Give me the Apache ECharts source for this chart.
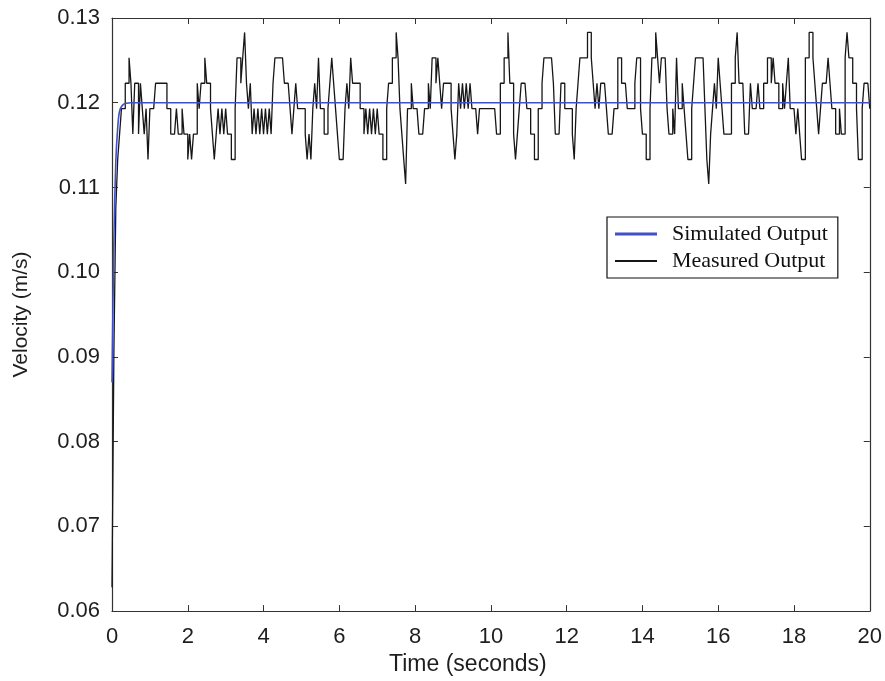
<!DOCTYPE html>
<html>
<head>
<meta charset="utf-8">
<script src="https://cdn.jsdelivr.net/npm/echarts@6/dist/echarts.min.js"></script>
<style>
  html, body { margin: 0; padding: 0; background: #ffffff; }
  #chart { width: 885px; height: 681px; }
</style>
</head>
<body>
<div id="chart"></div>
<script>
// Quantised velocity levels of the encoder (m/s)
const LEVELS = [0.1104, 0.1133, 0.1163, 0.1193, 0.1223, 0.1253, 0.1283];

// Sample period of the measured signal (s)
const SAMPLE_DT = 0.05;

// Measured start-up transient, t = 0 .. 0.25 s
const measuredStart = [0.0628, 0.0905, 0.1075, 0.1133, 0.1163, 0.1193];

// Measured level indices (into LEVELS), t = 0.30 s onward, one row per second
const measuredLevels = [
  3,4,4,5,4,2,4,4,2,4,3,2,3,1,
  3,3,3,4,4,4,4,4,4,3,3,2,2,2,3,2,2,3,2,2,
  1,2,1,2,2,4,3,4,4,5,4,4,3,2,1,2,3,2,3,2,
  3,2,2,1,1,3,5,5,4,5,6,4,3,4,2,3,2,3,2,3,
  2,3,2,3,2,4,5,5,5,5,5,4,4,4,3,2,3,4,3,3,
  3,3,2,1,2,1,3,4,3,5,3,3,2,2,3,4,5,4,3,2,
  1,1,1,3,4,3,5,4,4,4,4,3,3,2,3,2,3,2,3,2,
  3,2,2,1,1,3,4,4,5,5,6,5,3,2,1,0,3,3,4,3,
  3,3,2,2,2,3,3,4,3,5,5,4,5,4,3,4,4,4,4,3,
  2,1,2,4,3,4,3,4,3,4,3,3,3,2,3,3,3,3,3,3,
  3,3,3,2,2,4,4,5,5,6,4,4,2,1,2,3,4,4,4,3,
  3,2,2,1,1,3,3,4,5,5,5,5,5,4,2,2,2,4,4,3,
  3,3,3,2,1,3,4,5,5,5,5,6,6,5,4,3,4,3,4,4,
  4,3,2,2,2,3,3,5,5,4,4,4,3,3,3,3,4,5,5,3,
  2,2,1,1,3,5,5,6,5,4,5,5,5,3,2,2,3,2,5,3,
  3,4,3,2,1,1,3,4,5,5,5,5,5,3,1,0,2,3,4,3,
  5,4,3,2,2,2,2,4,4,5,6,4,4,4,2,2,2,4,3,3,
  3,4,3,3,4,4,5,5,4,5,4,4,3,3,4,3,4,5,3,3,
  3,2,3,2,1,1,5,5,6,6,5,4,3,2,3,4,4,4,5,4,
  3,3,2,2,3,2,2,5,6,5,5,4,4,3,1,1,3,4,4,4,
  3
];

// Simulated model response
const simTime  = [0, 0.05, 0.10, 0.15, 0.20, 0.30, 0.50, 20];
const simValue = [0.0870, 0.1040, 0.1130, 0.1170, 0.1190, 0.1198, 0.1200, 0.1200];

// Axis ticks
const xTicks = { min: 0, max: 20, interval: 2 };
const yTicks = { min: 0.06, max: 0.13, interval: 0.01 };

const measuredValues = measuredStart.concat(measuredLevels.map(i => LEVELS[i]));
const measuredData = measuredValues.map((v, n) => [+(n * SAMPLE_DT).toFixed(2), v]);
const simData = simTime.map((t, i) => [t, simValue[i]]);

const AXIS_COLOR = '#333333';
const TEXT_COLOR = '#1e1e1e';
const SANS = "'Liberation Sans', Arial, sans-serif";
const SIM_COLOR = '#4150c4';
const MEAS_COLOR = '#161616';

const tickStyle = { show: true, inside: true, length: 6, lineStyle: { color: AXIS_COLOR, width: 1 } };
const lineStyle = { show: true, onZero: false, lineStyle: { color: AXIS_COLOR, width: 1.2 } };

const chart = echarts.init(document.getElementById('chart'), null, { renderer: 'canvas' });

chart.setOption({
  backgroundColor: '#ffffff',
  animation: false,
  grid: { left: 112, right: 12, top: 18, bottom: 61, containLabel: false },
  legend: {
    orient: 'vertical',
    left: 607,
    top: 217,
    padding: [6, 10, 6, 8],
    itemGap: 5,
    itemWidth: 42,
    itemHeight: 14,
    borderColor: '#111111',
    borderWidth: 1.2,
    backgroundColor: '#ffffff',
    textStyle: {
      fontFamily: "'Liberation Serif', 'Times New Roman', serif",
      fontSize: 22,
      lineHeight: 22,
      color: '#111111',
      padding: [0, 0, 0, 10]
    },
    data: [
      { name: 'Simulated Output', icon: 'path://M0,0h42v3h-42z', itemStyle: { color: SIM_COLOR } },
      { name: 'Measured Output', icon: 'path://M0,0h42v2h-42z', itemStyle: { color: MEAS_COLOR } }
    ]
  },
  xAxis: [
    {
      type: 'value', position: 'bottom',
      min: xTicks.min, max: xTicks.max, interval: xTicks.interval,
      name: 'Time (seconds)', nameLocation: 'middle', nameGap: 35,
      nameTextStyle: { fontFamily: SANS, fontSize: 23, color: TEXT_COLOR, padding: [0, 46, 0, 0] },
      axisLine: lineStyle, axisTick: tickStyle,
      axisLabel: { fontFamily: SANS, fontSize: 22, color: TEXT_COLOR, margin: 15 },
      splitLine: { show: false }
    },
    {
      type: 'value', position: 'top',
      min: xTicks.min, max: xTicks.max, interval: xTicks.interval,
      axisLine: lineStyle, axisTick: tickStyle,
      axisLabel: { show: false }, splitLine: { show: false }
    }
  ],
  yAxis: [
    {
      type: 'value', position: 'left',
      min: yTicks.min, max: yTicks.max, interval: yTicks.interval,
      name: 'Velocity (m/s)', nameLocation: 'middle', nameGap: 80, nameRotate: 90,
      nameTextStyle: { fontFamily: SANS, fontSize: 21, color: TEXT_COLOR },
      axisLine: lineStyle, axisTick: tickStyle,
      axisLabel: {
        fontFamily: SANS, fontSize: 22, color: TEXT_COLOR, margin: 12,
        formatter: v => v.toFixed(2)
      },
      splitLine: { show: false }
    },
    {
      type: 'value', position: 'right',
      min: yTicks.min, max: yTicks.max, interval: yTicks.interval,
      axisLine: lineStyle, axisTick: tickStyle,
      axisLabel: { show: false }, splitLine: { show: false }
    }
  ],
  series: [
    {
      name: 'Measured Output',
      type: 'line',
      step: 'end',
      data: measuredData,
      symbol: 'none',
      lineStyle: { color: MEAS_COLOR, width: 1.3 },
      itemStyle: { color: MEAS_COLOR },
      z: 2
    },
    {
      name: 'Simulated Output',
      type: 'line',
      data: simData,
      symbol: 'none',
      smooth: 0.3,
      lineStyle: { color: SIM_COLOR, width: 1.6 },
      itemStyle: { color: SIM_COLOR },
      z: 3
    }
  ]
});
</script>
</body>
</html>
